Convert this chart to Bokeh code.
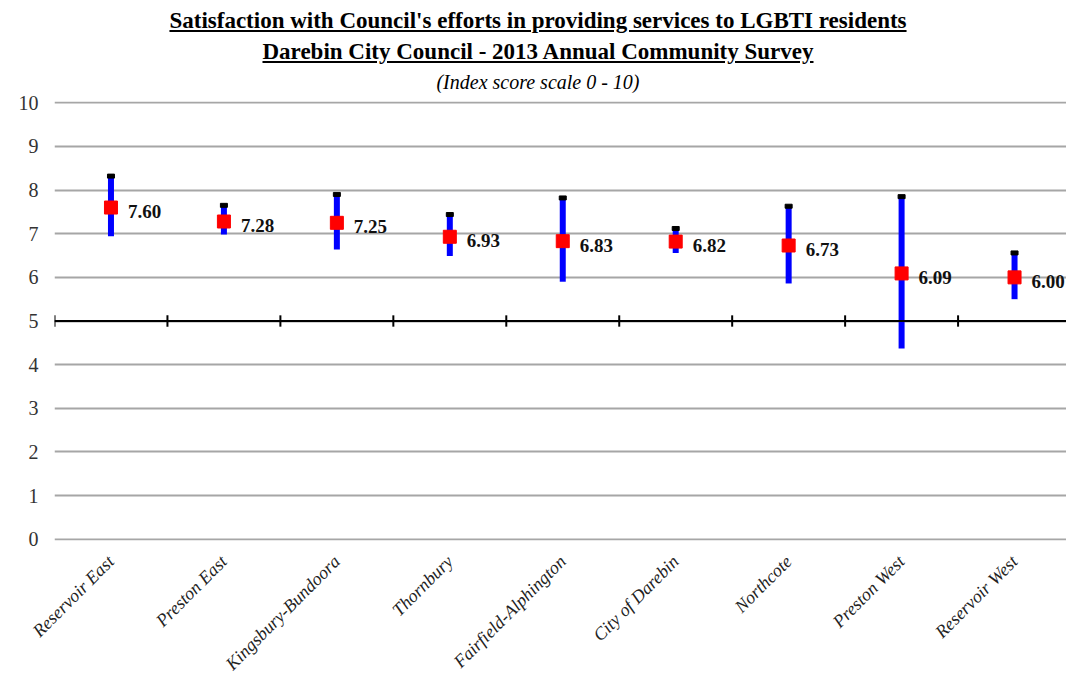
import math
from bokeh.plotting import figure
from bokeh.models import ColumnDataSource, Div, FixedTicker, Range1d, Span
from bokeh.layouts import column
from bokeh.embed import file_html
from bokeh.resources import INLINE
from bokeh.core.properties import value

areas = ["Reservoir East", "Preston East", "Kingsbury-Bundoora", "Thornbury",
         "Fairfield-Alphington", "City of Darebin", "Northcote", "Preston West",
         "Reservoir West"]
means = [7.60, 7.28, 7.25, 6.93, 6.83, 6.82, 6.73, 6.09, 6.00]
upper = [8.32, 7.65, 7.90, 7.44, 7.82, 7.12, 7.63, 7.85, 6.56]
lower = [6.94, 6.98, 6.64, 6.49, 5.90, 6.56, 5.86, 4.37, 5.50]
y_ticks = list(range(0, 11))
axis_value = 5

xc = [i + 0.5 for i in range(len(areas))]
src = ColumnDataSource(dict(x=xc, mean=means, hi=upper, lo=lower,
                            label=["%.2f" % m for m in means]))

SERIF = "Liberation Serif"
W = 1066

title_div = Div(
    text=(
        f"<div style=\"font-family:'{SERIF}';text-align:center;color:#000;width:{W}px;\">"
        "<div style=\"font-size:23px;font-weight:bold;text-decoration:underline;line-height:31px;\">"
        "Satisfaction with Council's efforts in providing services to LGBTI residents</div>"
        "<div style=\"font-size:23px;font-weight:bold;text-decoration:underline;line-height:31px;\">"
        "Darebin City Council - 2013 Annual Community Survey</div>"
        "<div style=\"font-size:20px;font-style:italic;line-height:30px;\">"
        "(Index score scale 0 - 10)</div></div>"
    ),
    width=W, height=82,
)

p = figure(width=W, height=592, x_range=Range1d(0, 8.96), y_range=Range1d(-0.03, 10.03),
           output_backend="svg", toolbar_location=None,
           min_border_left=54, min_border_right=0, min_border_top=9,
           min_border_bottom=144)
p.outline_line_color = None
p.background_fill_color = "white"
p.border_fill_color = "white"

p.xgrid.visible = False
p.ygrid.grid_line_color = "#a6a6a6"
p.ygrid.grid_line_width = 2
p.yaxis.ticker = FixedTicker(ticks=y_ticks)
p.yaxis.axis_line_color = None
p.yaxis.major_tick_line_color = None
p.yaxis.minor_tick_line_color = None
p.yaxis.major_label_text_font = SERIF
p.yaxis.major_label_text_font_size = "20px"
p.yaxis.major_label_text_color = "#333333"
p.yaxis.major_label_standoff = 10

p.xaxis.ticker = FixedTicker(ticks=xc)
p.xaxis.major_label_overrides = {xv: name for xv, name in zip(xc, areas)}
p.xaxis.axis_line_color = None
p.xaxis.major_tick_line_color = None
p.xaxis.minor_tick_line_color = None
p.xaxis.major_label_orientation = math.pi / 4
p.xaxis.major_label_text_font = SERIF
p.xaxis.major_label_text_font_style = "italic"
p.xaxis.major_label_text_font_size = "18px"
p.xaxis.major_label_text_color = "#222222"
p.xaxis.major_label_standoff = 12

# horizontal category axis at y = 5
p.add_layout(Span(location=axis_value, dimension="width", line_color="black", line_width=2))
bounds = list(range(len(areas) + 1))
p.segment(x0=bounds, x1=bounds, y0=[axis_value - 0.13] * len(bounds),
          y1=[axis_value + 0.13] * len(bounds), line_color="black", line_width=2)

# error bars
p.segment(x0="x", x1="x", y0="lo", y1="hi", source=src, line_color="#0000ff", line_width=6)
p.rect(x="x", y="hi", width=7, height=4, width_units="screen", height_units="screen",
       source=src, fill_color="black", line_color="black")
p.scatter(x="x", y="mean", source=src, marker="square", size=13,
          fill_color="#ff0000", line_color="#ff0000")
p.text(x="x", y="mean", text="label", source=src, x_offset=17, y_offset=4,
       text_font=value(SERIF), text_font_style="bold", text_font_size="19px",
       text_baseline="middle", text_align="left", text_color="#111111")

layout = column(title_div, p, spacing=0)
open("out.html", "w").write(file_html(layout, INLINE))
